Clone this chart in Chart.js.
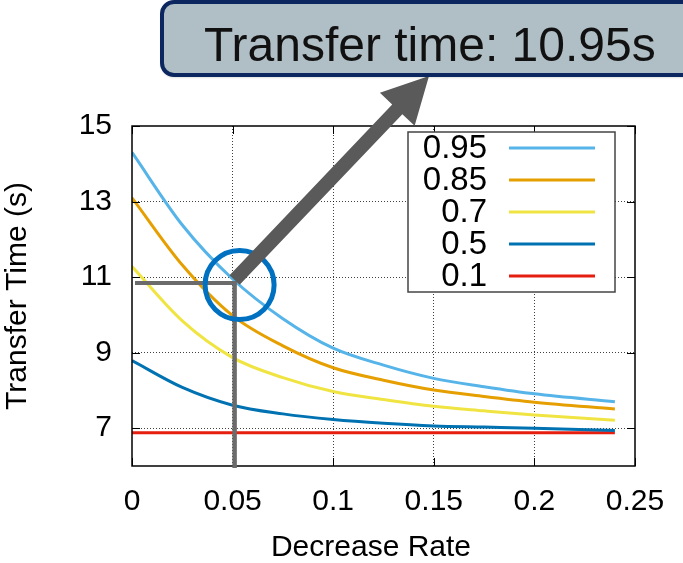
<!DOCTYPE html>
<html>
<head>
<meta charset="utf-8">
<script src="https://cdn.jsdelivr.net/npm/chart.js@4.4.1/dist/chart.umd.min.js"></script>
<style>
  html, body { margin: 0; padding: 0; background: #ffffff; }
  #wrap { width: 683px; height: 563px; }
</style>
</head>
<body>
<div id="wrap"><canvas id="chart" width="683" height="563"></canvas></div>
<script>
// Transfer time versus decrease rate, one curve per starting ratio
const decreaseRates = [0, 0.025, 0.05, 0.075, 0.1, 0.125, 0.15, 0.175, 0.2, 0.24];
const time095 = [14.3, 12.38, 10.95, 9.90, 9.12, 8.67, 8.32, 8.10, 7.91, 7.70];
const time085 = [13.1, 11.32, 9.98, 9.18, 8.60, 8.27, 8.01, 7.84, 7.69, 7.51];
const time07  = [11.28, 9.84, 8.87, 8.34, 7.97, 7.76, 7.58, 7.46, 7.35, 7.21];
const time05  = [8.79, 8.08, 7.61, 7.38, 7.23, 7.13, 7.06, 7.03, 7.00, 6.94];
const time01  = [6.88, 6.88, 6.88, 6.88, 6.88, 6.88, 6.88, 6.88, 6.88, 6.88];

const seriesLabels = ['0.95', '0.85', '0.7', '0.5', '0.1'];
const seriesColors = ['#56b4e9', '#e69f00', '#f0e442', '#0072b2', '#e51e10'];
const seriesValues = [time095, time085, time07, time05, time01];

const xTickValues = [0, 0.05, 0.1, 0.15, 0.2, 0.25];
const xTickLabels = ['0', '0.05', '0.1', '0.15', '0.2', '0.25'];
const yTickValues = [7, 9, 11, 13, 15];
const yTickLabels = ['7', '9', '11', '13', '15'];

// highlighted reading on the 0.95 curve
const highlightSeries = 0;
const highlightIndex = 2;           // decreaseRates[2] = 0.05
const highlightText = 'Transfer time: 10.95s';

const FONT = '"Liberation Sans", Arial, Helvetica, sans-serif';

const datasets = seriesLabels.map((label, i) => ({
  label,
  data: decreaseRates.map((x, j) => ({ x, y: seriesValues[i][j] })),
  borderColor: seriesColors[i],
  backgroundColor: seriesColors[i],
  borderWidth: 3,
  pointRadius: 0,
  fill: false,
  cubicInterpolationMode: 'monotone'
}));

const gridColor = (edgeValues) => (ctx) =>
  (ctx.tick && edgeValues.includes(ctx.tick.value)) ? 'rgba(0,0,0,0)' : 'rgba(0,0,0,0.75)';

const decorations = {
  id: 'decorations',
  afterDatasetsDraw(chart) {
    const { ctx, chartArea: a, scales: { x, y } } = chart;
    ctx.save();

    // plot frame
    ctx.strokeStyle = '#000';
    ctx.lineWidth = 1.5;
    ctx.strokeRect(a.left, a.top, a.right - a.left, a.bottom - a.top);

    // inward tick marks on all four sides
    ctx.lineWidth = 1;
    const tl = 8;
    ctx.beginPath();
    xTickValues.forEach(v => {
      const px = Math.round(x.getPixelForValue(v)) + 0.5;
      ctx.moveTo(px, a.bottom); ctx.lineTo(px, a.bottom - tl);
      ctx.moveTo(px, a.top); ctx.lineTo(px, a.top + tl);
    });
    yTickValues.forEach(v => {
      const py = Math.round(y.getPixelForValue(v)) + 0.5;
      ctx.moveTo(a.left, py); ctx.lineTo(a.left + tl, py);
      ctx.moveTo(a.right, py); ctx.lineTo(a.right - tl, py);
    });
    ctx.stroke();

    // guide lines to the highlighted reading
    const hx = x.getPixelForValue(decreaseRates[highlightIndex]);
    const hy = y.getPixelForValue(seriesValues[highlightSeries][highlightIndex]);
    ctx.strokeStyle = '#6b6b6b';
    ctx.lineCap = 'butt';
    ctx.lineWidth = 4;
    ctx.beginPath();
    ctx.moveTo(a.left + 3, hy + 4);
    ctx.lineTo(hx + 4, hy + 4);
    ctx.stroke();
    ctx.lineWidth = 4.5;
    ctx.beginPath();
    ctx.moveTo(hx + 2, hy + 2);
    ctx.lineTo(hx + 2, a.bottom + 2);
    ctx.stroke();

    // ring around the reading
    ctx.strokeStyle = '#0070c0';
    ctx.lineWidth = 5;
    ctx.beginPath();
    ctx.arc(hx + 7, hy + 6, 34.5, 0, Math.PI * 2);
    ctx.stroke();

    // arrow from the reading up to the callout
    const tipX = 429, tipY = 76;
    const sx = hx + 2, sy = hy + 1;
    const dx = tipX - sx, dy = tipY - sy;
    const len = Math.hypot(dx, dy);
    const ux = dx / len, uy = dy / len;
    const nx = -uy, ny = ux;
    const shaft = 7, headLen = 46, headHalf = 24;
    const bx = tipX - ux * headLen, by = tipY - uy * headLen;
    ctx.fillStyle = '#5a5a5a';
    ctx.beginPath();
    ctx.moveTo(sx + nx * shaft, sy + ny * shaft);
    ctx.lineTo(bx + nx * shaft, by + ny * shaft);
    ctx.lineTo(bx + nx * headHalf, by + ny * headHalf);
    ctx.lineTo(tipX, tipY);
    ctx.lineTo(bx - nx * headHalf, by - ny * headHalf);
    ctx.lineTo(bx - nx * shaft, by - ny * shaft);
    ctx.lineTo(sx - nx * shaft, sy - ny * shaft);
    ctx.closePath();
    ctx.fill();

    ctx.restore();
  },
  afterDraw(chart) {
    const { ctx } = chart;
    ctx.save();

    // legend: labels right-aligned, line samples to the right
    const lx = 408, ly = 132, lw = 207, lh = 160;
    ctx.fillStyle = '#fff';
    ctx.fillRect(lx, ly, lw, lh);
    ctx.strokeStyle = '#444';
    ctx.lineWidth = 1.5;
    ctx.strokeRect(lx, ly, lw, lh);
    ctx.font = '33px ' + FONT;
    ctx.textAlign = 'right';
    ctx.textBaseline = 'middle';
    chart.data.datasets.forEach((ds, i) => {
      const rowY = 148 + i * 32;
      ctx.fillStyle = '#000';
      ctx.fillText(ds.label, 487, rowY + 1);
      ctx.strokeStyle = ds.borderColor;
      ctx.lineWidth = 3;
      ctx.beginPath();
      ctx.moveTo(509, rowY);
      ctx.lineTo(595, rowY);
      ctx.stroke();
    });

    // callout box
    const bx = 162, by = 2, bw = 540, bh = 73, r = 12;
    ctx.shadowColor = 'rgba(0,0,0,0.25)';
    ctx.shadowBlur = 3;
    ctx.shadowOffsetY = 2;
    ctx.beginPath();
    ctx.roundRect(bx, by, bw, bh, r);
    ctx.fillStyle = '#b0bec5';
    ctx.fill();
    ctx.shadowColor = 'rgba(0,0,0,0)';
    ctx.strokeStyle = '#0c275f';
    ctx.lineWidth = 4;
    ctx.stroke();
    ctx.fillStyle = '#111';
    ctx.font = '48px ' + FONT;
    ctx.textAlign = 'left';
    ctx.textBaseline = 'alphabetic';
    ctx.fillText(highlightText, 204, 61);

    ctx.restore();
  }
};

new Chart(document.getElementById('chart'), {
  type: 'line',
  data: { datasets },
  options: {
    responsive: false,
    animation: false,
    devicePixelRatio: 1,
    layout: { padding: { top: 126, right: 48, left: 0, bottom: 0 } },
    plugins: { legend: { display: false }, tooltip: { enabled: false } },
    scales: {
      x: {
        type: 'linear',
        min: 0,
        max: 0.25,
        afterBuildTicks: s => { s.ticks = xTickValues.map(v => ({ value: v })); },
        afterFit: s => { s.height = 97; },
        ticks: {
          color: '#000',
          font: { family: FONT, size: 30 },
          padding: 18,
          maxRotation: 0,
          autoSkip: false,
          callback: (v) => xTickLabels[xTickValues.indexOf(v)] ?? ''
        },
        grid: { color: gridColor([0, 0.25]), lineWidth: 1, drawTicks: false },
        border: { display: false, dash: [1, 2] },
        title: {
          display: true,
          text: 'Decrease Rate\u00a0\u00a0\u00a0',
          color: '#000',
          font: { family: FONT, size: 30 },
          padding: { top: 0, bottom: -3 }
        }
      },
      y: {
        type: 'linear',
        min: 6,
        max: 15,
        afterBuildTicks: s => { s.ticks = yTickValues.map(v => ({ value: v })); },
        afterFit: s => { s.width = 132; },
        ticks: {
          color: '#000',
          font: { family: FONT, size: 30 },
          padding: 20,
          autoSkip: false,
          callback: (v) => yTickLabels[yTickValues.indexOf(v)] ?? ''
        },
        grid: { color: gridColor([15]), lineWidth: 1, drawTicks: false },
        border: { display: false, dash: [1, 2] },
        title: {
          display: true,
          text: 'Transfer Time (s)',
          color: '#000',
          font: { family: FONT, size: 30 },
          padding: { top: 0, bottom: 4 }
        }
      }
    }
  },
  plugins: [decorations]
});
</script>
</body>
</html>
